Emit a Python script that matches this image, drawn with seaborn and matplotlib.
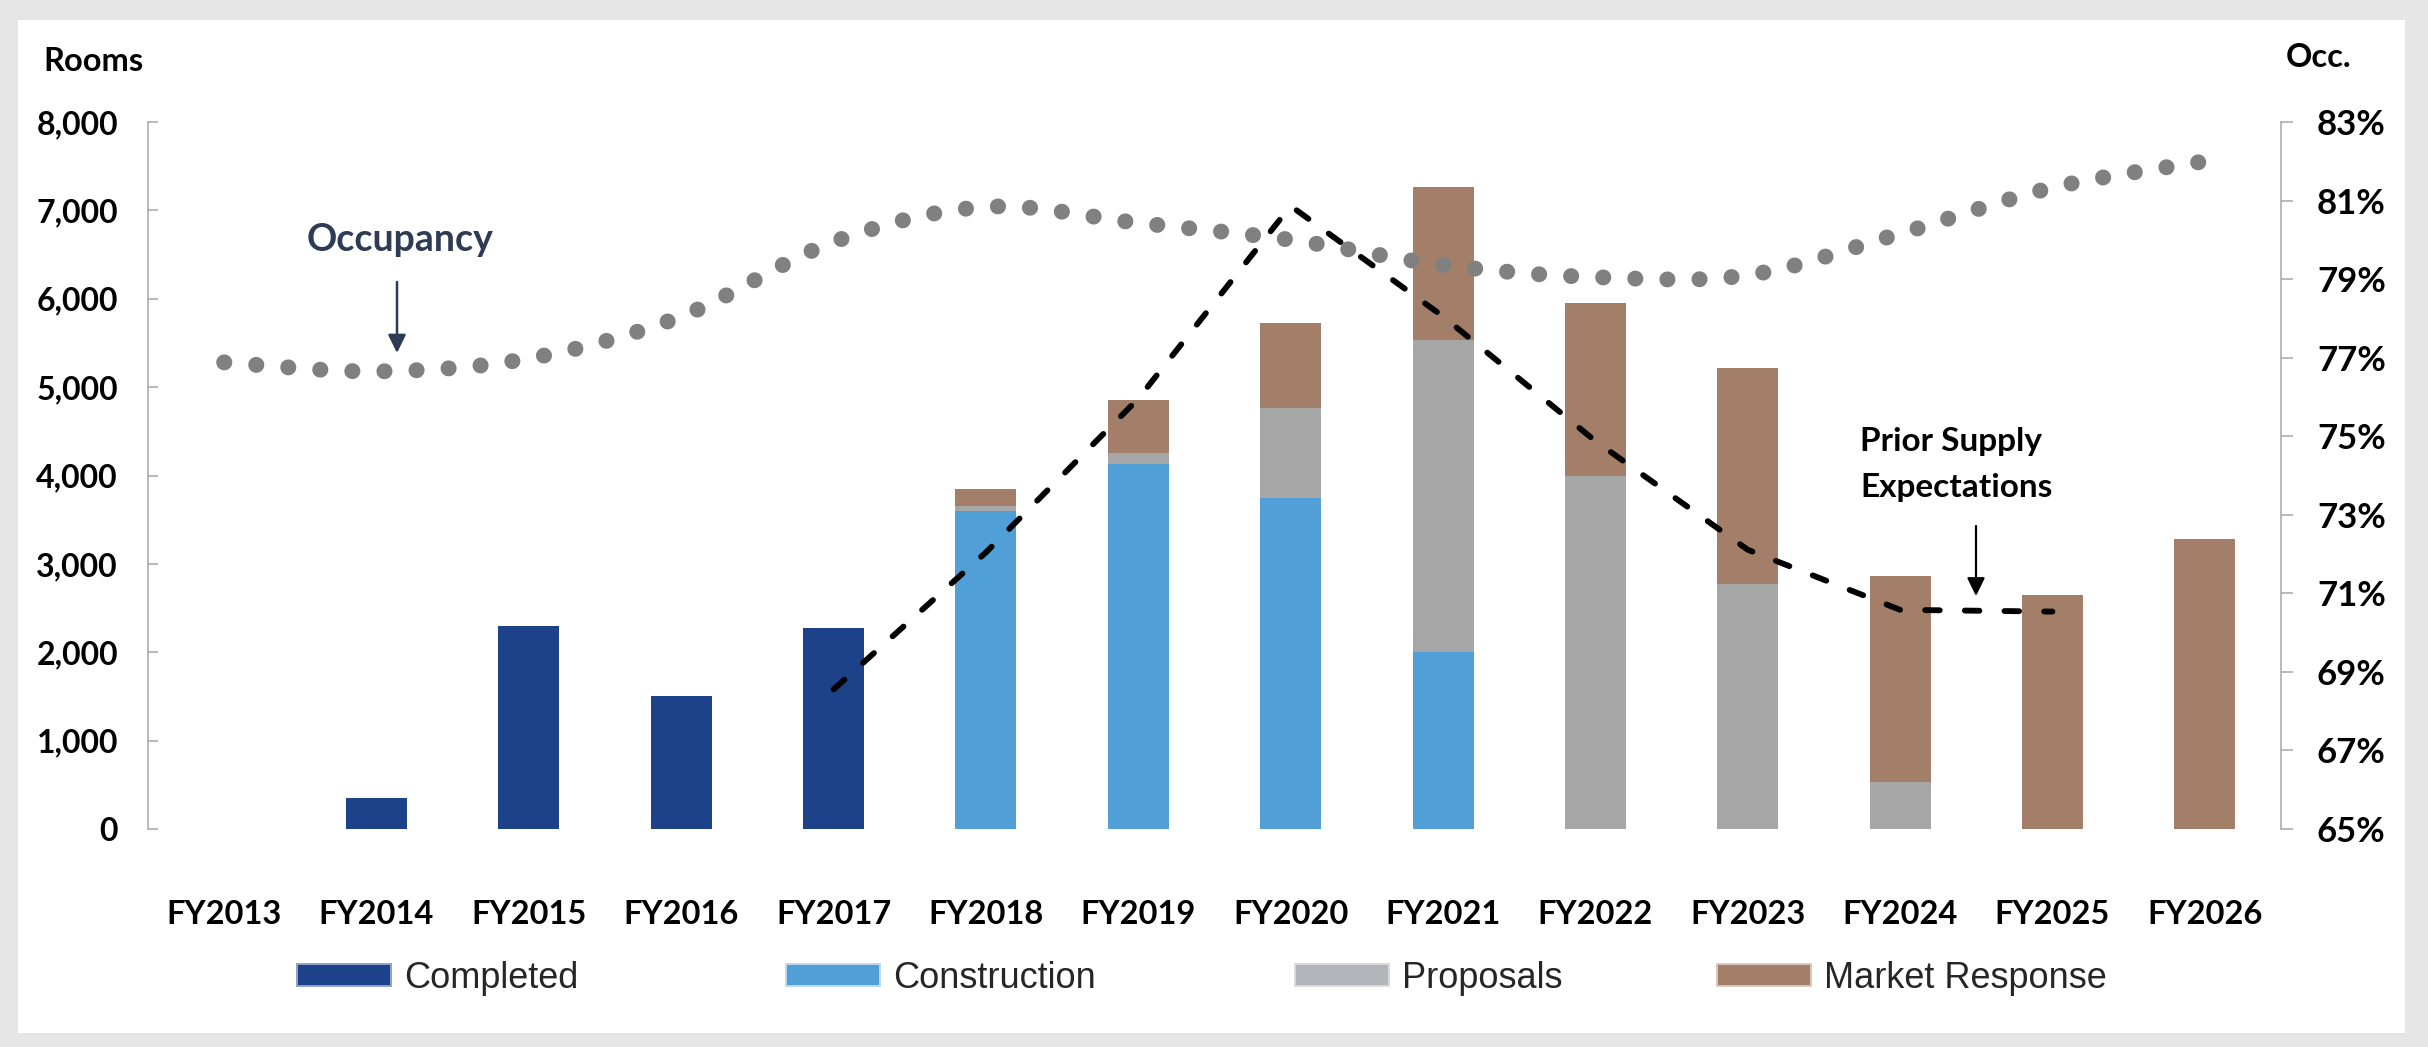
import numpy as np
import matplotlib
matplotlib.use("Agg")
import matplotlib.pyplot as plt
import seaborn as sns
from matplotlib.path import Path
from matplotlib.patches import PathPatch, Rectangle, Patch
from matplotlib.ticker import FuncFormatter, FixedLocator

# ---------------- data ----------------
years = ["FY2013", "FY2014", "FY2015", "FY2016", "FY2017", "FY2018", "FY2019",
         "FY2020", "FY2021", "FY2022", "FY2023", "FY2024", "FY2025", "FY2026"]
completed = [0, 350, 2300, 1500, 2270, 0, 0, 0, 0, 0, 0, 0, 0, 0]
construction = [0, 0, 0, 0, 0, 3600, 4130, 3750, 2000, 0, 0, 0, 0, 0]
proposals = [0, 0, 0, 0, 0, 55, 120, 1010, 3530, 3990, 2770, 530, 0, 0]
market_response = [0, 0, 0, 0, 0, 190, 600, 970, 1730, 1960, 2450, 2330, 2650, 3280]
prior_supply = [np.nan, np.nan, np.nan, np.nan, 1580, 3130, 4870, 7050, 5800,
                4390, 3160, 2480, 2460, np.nan]
occupancy = [76.88, 76.65, 76.98, 78.05, 79.95, 80.84, 80.43, 80.0, 79.36,
             79.05, 79.1, 80.16, 81.33, 82.0]
series_names = ["Completed", "Construction", "Proposals", "Market Response"]
rooms_ticks = [0, 1000, 2000, 3000, 4000, 5000, 6000, 7000, 8000]
occ_ticks = [65, 67, 69, 71, 73, 75, 77, 79, 81, 83]

# ---------------- style ----------------
C_COMP = "#1d4289"
C_CONS = "#509fd6"
C_PROP = "#a6a6a6"
C_MKT = "#a37f69"
C_OCC = "#808080"
C_AXIS = "#a6a6a6"
C_NAVY = "#2e3b55"

sns.set_style("white")
plt.rcParams["font.family"] = ["Lato", "DejaVu Sans"]
plt.rcParams["font.weight"] = "bold"

W, H = 2428, 1047
fig = plt.figure(figsize=(W / 100, H / 100), dpi=100, facecolor="#e6e6e6")


def fx(px):
    return px / W


def fy(py):
    return 1 - py / H


# white panel
fig.add_artist(Rectangle((fx(18), fy(1033)), fx(2405) - fx(18), fy(20) - fy(1033),
                         transform=fig.transFigure, facecolor="white",
                         edgecolor="none", zorder=-10))

ax = fig.add_axes([fx(148), fy(829), fx(2281) - fx(148), fy(122) - fy(829)])
ax.set_facecolor("none")

n = len(years)
comp = np.array(completed, float)
cons = np.array(construction, float)
prop = np.array(proposals, float)
mkt = np.array(market_response, float)
layers = [
    (comp + cons + prop + mkt, C_MKT),
    (comp + cons + prop, C_PROP),
    (comp + cons, C_CONS),
    (comp, C_COMP),
]
for heights, col in layers:
    sns.barplot(x=years, y=heights, color=col, width=0.4, saturation=1,
                linewidth=0, errorbar=None, ax=ax)

# prior supply expectations dashed line (rooms axis)
sns.lineplot(x=np.arange(n), y=prior_supply, ax=ax, color="black",
             linewidth=4.2, linestyle=(0, (2.5, 4.3)), dash_capstyle="round",
             legend=False)

ax.set_xlim(-0.5, n - 0.5)
ax.set_ylim(0, 8000)
ax.set_xticks(range(n))
ax.set_xticklabels(years)
ax.yaxis.set_major_locator(FixedLocator(rooms_ticks))
ax.yaxis.set_major_formatter(FuncFormatter(lambda v, p: f"{int(v):,}"))
ax.set_xlabel("")
ax.set_ylabel("")
for s in ["top", "right", "bottom"]:
    ax.spines[s].set_visible(False)
ax.spines["left"].set_color(C_AXIS)
ax.spines["left"].set_linewidth(1.1)
ax.tick_params(axis="y", direction="in", length=7, width=1.1, color=C_AXIS,
               pad=21.6, labelsize=23, labelcolor="black")
ax.tick_params(axis="x", length=0, pad=51, labelsize=23.5, labelcolor="black")

# occupancy axis
ax2 = ax.twinx()
ax2.set_facecolor("none")
ax2.set_ylim(65, 83)
ax2.yaxis.set_major_locator(FixedLocator(occ_ticks))
ax2.yaxis.set_major_formatter(FuncFormatter(lambda v, p: f"{int(round(v))}%"))
for s in ["top", "left", "bottom"]:
    ax2.spines[s].set_visible(False)
ax2.spines["right"].set_color(C_AXIS)
ax2.spines["right"].set_linewidth(1.1)
ax2.tick_params(axis="y", direction="out", length=8.6, width=1.1, color=C_AXIS,
                pad=17.3, labelsize=25, labelcolor="black")

# smooth occupancy curve (Bezier through the data points), round-dot style
xs = np.arange(n, dtype=float)
ys = np.array(occupancy, float)
verts = [(xs[0], ys[0])]
codes = [Path.MOVETO]
for i in range(n - 1):
    p0 = np.array([xs[max(i - 1, 0)], ys[max(i - 1, 0)]])
    p1 = np.array([xs[i], ys[i]])
    p2 = np.array([xs[i + 1], ys[i + 1]])
    p3 = np.array([xs[min(i + 2, n - 1)], ys[min(i + 2, n - 1)]])
    c1 = p1 + (p2 - p0) / 6
    c2 = p2 - (p3 - p1) / 6
    verts += [tuple(c1), tuple(c2), tuple(p2)]
    codes += [Path.CURVE4] * 3
ax2.add_patch(PathPatch(Path(verts, codes), fill=False, edgecolor=C_OCC,
                        linewidth=11.5, linestyle=(0, (0.01, 2.0)),
                        capstyle="round"))

# axis titles
fig.text(fx(43), fy(71), "Rooms", ha="left", va="baseline", fontsize=23.5,
         fontweight="bold", color="black")
fig.text(fx(2286), fy(66.5), "Occ.", ha="left", va="baseline", fontsize=23.5,
         fontweight="bold", color="black")

# annotations
fig.text(fx(400), fy(251), "Occupancy", ha="center", va="baseline", fontsize=27,
         fontweight="bold", color=C_NAVY)
ax.annotate("", xy=(fx(397), fy(353)), xytext=(fx(397), fy(282)),
            xycoords="figure fraction", textcoords="figure fraction",
            arrowprops=dict(arrowstyle="-|>,head_length=0.55,head_width=0.27",
                            mutation_scale=20, lw=1.8, color=C_NAVY,
                            shrinkA=0, shrinkB=0))
fig.text(fx(1860), fy(451.5), "Prior Supply", ha="left", va="baseline",
         fontsize=24, fontweight="bold", color="black")
fig.text(fx(1860), fy(496.5), "Expectations", ha="left", va="baseline",
         fontsize=24, fontweight="bold", color="black")
ax.annotate("", xy=(fx(1976), fy(596)), xytext=(fx(1976), fy(526)),
            xycoords="figure fraction", textcoords="figure fraction",
            arrowprops=dict(arrowstyle="-|>,head_length=0.55,head_width=0.27",
                            mutation_scale=20, lw=1.6, color="black",
                            shrinkA=0, shrinkB=0))

# legend: four entries at Excel-like positions
leg_specs = [
    (series_names[0], C_COMP, "#8fa3c8", 297),
    (series_names[1], C_CONS, "#b9daf0", 786),
    (series_names[2], "#b1b5b9", "#d8dadc", 1295),
    (series_names[3], C_MKT, "#dcc9bd", 1717),
]
for name, face, edge, x0 in leg_specs:
    h = Patch(facecolor=face, edgecolor=edge, linewidth=1.4)
    fig.legend(handles=[h], labels=[name], loc="center left",
               bbox_to_anchor=(fx(x0), fy(978)), frameon=False, borderpad=0,
               borderaxespad=0, handlelength=2.6, handleheight=0.55,
               handletextpad=0.36,
               prop={"family": ["Liberation Sans", "DejaVu Sans"],
                     "weight": "normal", "size": 26})

fig.savefig("out.png", dpi=100, facecolor=fig.get_facecolor())
